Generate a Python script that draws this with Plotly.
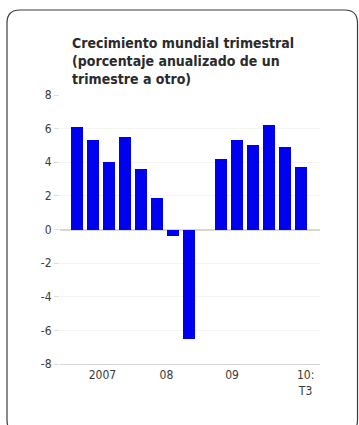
import plotly.graph_objects as go

# ---- data ----
quarters = ["2007 T1", "2007 T2", "2007 T3", "2007 T4",
            "2008 T1", "2008 T2", "2008 T3", "2008 T4",
            "2009 T1", "2009 T2", "2009 T3", "2009 T4",
            "2010 T1", "2010 T2", "2010 T3"]
growth = [6.1, 5.3, 4.0, 5.5,
          3.6, 1.9, -0.4, -6.5,
          None, 4.2, 5.3, 5.0,
          6.2, 4.9, 3.7]
year_labels = ["2007", "08", "09", "10:<br>T3"]
y_ticks = [-8, -6, -4, -2, 0, 2, 4, 6, 8]
y_tick_labels = ["-8", "-6", "-4", "-2", "0", "2", "4", "6", "8"]

title_text = ("Crecimiento mundial trimestral<br>"
              "(porcentaje anualizado de un<br>"
              "trimestre a otro)")

# ---- layout geometry ----
W, H = 359, 425
L, R, T, B = 60, 39, 95, 61
PW, PH = W - L - R, H - T - B

def px(xp):
    return (xp - L) / PW

def py(yp):
    return (H - B - yp) / PH

xpos = list(range(len(quarters)))

FONT = "Liberation Sans Narrow, DejaVu Sans Condensed, Arial Narrow, sans-serif"

fig = go.Figure()
fig.add_trace(go.Bar(
    x=xpos, y=growth, width=0.72,
    marker=dict(color="#0000f0", line=dict(width=0)),
    hovertext=quarters, showlegend=False,
))

# rounded border
x0, x1 = px(7), px(357.5)
y0, y1 = py(10), py(433)
rx, ry = 13 / PW, 13 / PH
path = (f"M {x0+rx},{y0} L {x1-rx},{y0} Q {x1},{y0} {x1},{y0-ry} "
        f"L {x1},{y1+ry} Q {x1},{y1} {x1-rx},{y1} "
        f"L {x0+rx},{y1} Q {x0},{y1} {x0},{y1+ry} "
        f"L {x0},{y0-ry} Q {x0},{y0} {x0+rx},{y0} Z")

fig.update_layout(
    width=W, height=H,
    margin=dict(l=L, r=R, t=T, b=B, pad=0),
    paper_bgcolor="white", plot_bgcolor="white",
    font=dict(family=FONT, size=12, color="#3a3a3a"),
    bargap=0,
    xaxis=dict(
        range=[-1.05, 15.2], tickmode="array",
        tickvals=[1.6, 5.6, 9.7, 14.3], ticktext=year_labels,
        showgrid=False, zeroline=False,
        showline=True, linecolor="#d4d4d4", linewidth=1,
        ticks="", tickfont=dict(size=12, color="#3a3a3a"),
        fixedrange=True,
    ),
    yaxis=dict(
        range=[-8, 8], tickmode="array", tickvals=y_ticks,
        ticktext=y_tick_labels,
        showgrid=True, gridcolor="#f4f4f0", gridwidth=1,
        zeroline=True, zerolinecolor="#d8d8cc", zerolinewidth=1.5,
        showline=False, ticks="outside", ticklen=5, tickcolor="#dcdcdc",
        tickfont=dict(size=12, color="#3a3a3a"),
        fixedrange=True,
    ),
    shapes=[dict(type="path", xref="paper", yref="paper", path=path,
                 line=dict(color="#3c3c3c", width=1.2))],
    annotations=[dict(
        text="<b>" + title_text + "</b>", xref="paper", yref="paper",
        x=px(70), y=py(33), xanchor="left", yanchor="top", align="left",
        showarrow=False,
        font=dict(family=FONT, size=14, color="#2a2a2a"),
    )],
)

fig.write_html("out.html")
